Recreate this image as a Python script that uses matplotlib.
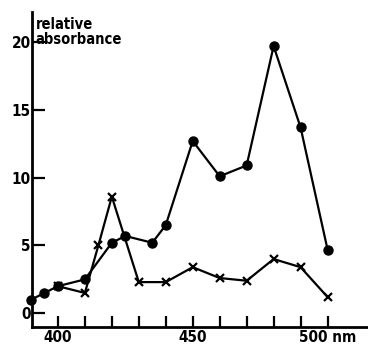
import matplotlib
matplotlib.use("Agg")
from matplotlib import pyplot as plt

# wavelength (nm) and relative absorbance
wl_dots = [390, 395, 400, 410, 420, 425, 435, 440, 450, 460, 470, 480, 490, 500]
abs_dots = [1.0, 1.5, 2.0, 2.5, 5.2, 5.7, 5.2, 6.5, 12.7, 10.1, 10.9, 19.7, 13.7, 4.7]

wl_cross = [400, 410, 415, 420, 430, 440, 450, 460, 470, 480, 490, 500]
abs_cross = [2.0, 1.5, 5.0, 8.6, 2.3, 2.3, 3.4, 2.6, 2.4, 4.0, 3.4, 1.2]

xticks = [400, 410, 420, 430, 440, 450, 460, 470, 480, 490, 500]
xlabels = ["400", "", "", "", "", "450", "", "", "", "", "500 nm"]
yticks = [0, 5, 10, 15, 20]

plt.rcParams['font.family'] = ['DejaVu Sans']
plt.rcParams['font.stretch'] = 'condensed'

fig = plt.figure(figsize=(3.68, 3.47), dpi=100)
ax = fig.add_axes([0.087, 0.058, 0.913, 0.907])

ax.plot(wl_cross, abs_cross, color='k', lw=1.6, marker='x', ms=6, mew=1.6, clip_on=False)
ax.plot(wl_dots, abs_dots, color='k', lw=1.6, marker='o', ms=6.5, clip_on=False)

ax.set_xlim(390.4, 515)
ax.set_ylim(-1.0, 22.2)

ax.spines['top'].set_visible(False)
ax.spines['right'].set_visible(False)
ax.spines['left'].set_linewidth(2)
ax.spines['bottom'].set_linewidth(2)

ax.set_xticks(xticks)
ax.set_xticklabels(xlabels, fontsize=11, fontweight='bold')
ax.set_yticks(yticks)
ax.set_yticklabels([str(t) for t in yticks], fontsize=11, fontweight='bold')
ax.tick_params(axis='x', direction='in', length=8, width=1.6, pad=2)
ax.tick_params(axis='y', direction='in', length=9, width=1.6, pad=1)

ax.text(0.01, 0.985, "relative\nabsorbance", transform=ax.transAxes,
        fontsize=10.5, fontweight='bold', va='top', ha='left', linespacing=1.05)

fig.savefig("out.png", dpi=100)
